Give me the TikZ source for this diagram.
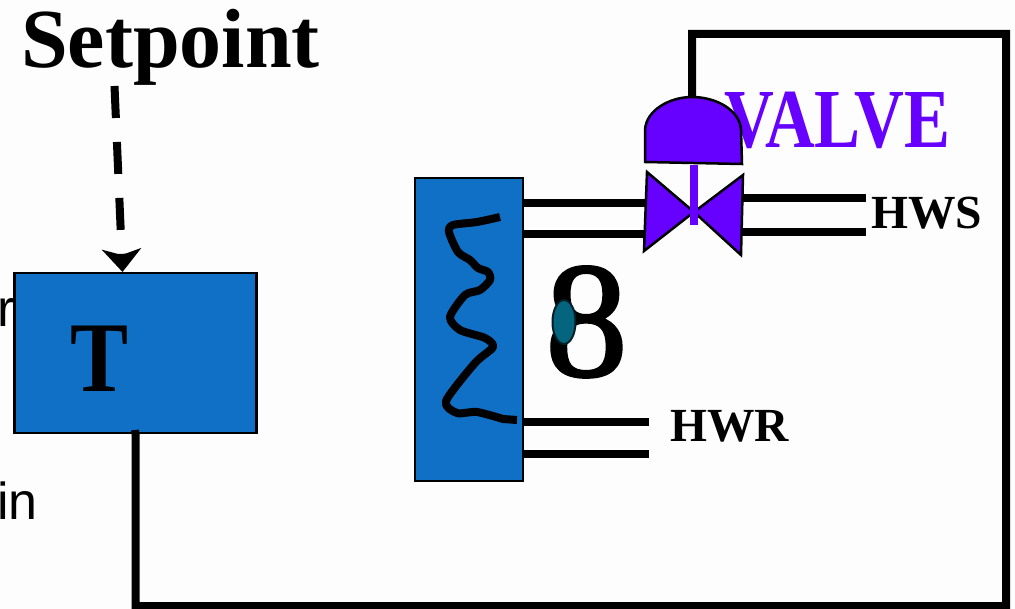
\documentclass[tikz,border=0pt]{standalone}
\usepackage{fontspec}
\setmainfont{Liberation Serif}
\setsansfont{Liberation Sans}
\newfontfamily\heavyfont[FakeBold=1.5]{Liberation Serif}
\usetikzlibrary{arrows.meta, positioning, shapes.geometric}
\definecolor{boxblue}{HTML}{1070C6}
\definecolor{valvepurple}{HTML}{6600FF}
\definecolor{dropteal}{HTML}{05657F}
\definecolor{paper}{HTML}{FDFDFD}
\newcommand{\labelfont}[1]{\fontsize{#1}{#1}\selectfont\bfseries}
\tikzset{
    block/.style={draw=black, line width=2.5pt, fill=boxblue, inner sep=0pt},
    pipe/.style={line width=8pt},
    signal/.style={line width=8pt, line join=miter},
    valvepart/.style={draw=black, line width=2.5pt, fill=valvepurple, line join=miter},
    tag/.style={inner sep=0pt, anchor=base west},
    cut/.style={inner sep=0pt, anchor=base west, font=\sffamily\fontsize{52}{52}\selectfont}
}

\begin{document}
\begin{tikzpicture}[x=1pt, y=-1pt]
    \useasboundingbox (0,0) rectangle (1015,609);
    \fill[paper] (0,0) rectangle (1015,609);

    \node[cut] (cutr) at (-3,327) {r};
    \node[cut] (cutin) at (-3,519) {in};
    \node[tag, font=\labelfont{84}] (setpoint) at (21,68) {Setpoint};
    \node[tag, font=\labelfont{84}, text=valvepurple, xscale=0.82] (valvetag) at (724,148) {VALVE};
    \node[tag, font=\labelfont{47.5}] (hws) at (871,229) {HWS};
    \node[tag, font=\labelfont{47.5}] (hwr) at (670,442) {HWR};

    \node[block, minimum width=242pt, minimum height=160pt] (tbox) at (135.5,353) {};
    \node[block, minimum width=108pt, minimum height=303pt] (hx) at (469,329.5) {};
    \node[tag, font=\labelfont{100}, xscale=0.87] (tlabel) at (70,392) {T};
    \node[tag, font=\heavyfont\fontsize{165}{165}\selectfont] (eight) at (545,376) {8};
    \node[ellipse, draw=black!70!dropteal, line width=2pt, fill=dropteal, minimum width=23pt, minimum height=44pt, inner sep=0pt] (drop) at (564,322) {};

    \coordinate (setfoot) at (114.5,86);
    \coordinate (tin) at (122.5,272);
    \coordinate (acttop) at (692,97);
    \coordinate (botright) at (1006,606);
    \coordinate (topright) at (1006,34);
    \coordinate (vlup) at (646,203);
    \coordinate (vldown) at (646,234);
    \coordinate (vrup) at (743,198);
    \coordinate (vrdown) at (742,232);
    \coordinate (hwsup) at (866,198);
    \coordinate (hwsdown) at (866,232);
    \coordinate (hwrup) at (649,422);
    \coordinate (hwrdown) at (649,454);

    \draw[signal] (135,430) -- (tbox.south) |- (botright) -- (topright) -| (acttop);
    \draw[line width=8pt, dash pattern=on 32pt off 24pt, -{Stealth[length=23pt, width=39pt, inset=6pt]}] (setfoot) -- (tin);

    \draw[pipe] (hx.east |- vlup) -- (vlup);
    \draw[pipe] (hx.east |- vldown) -- (vldown);
    \draw[pipe] (vrup) -- (hwsup);
    \draw[pipe] (vrdown) -- (hwsdown);
    \draw[pipe] (hx.east |- hwrup) -- (hwrup);
    \draw[pipe] (hx.east |- hwrdown) -- (hwrdown);

    \draw[line width=8pt, line join=round] plot[smooth, tension=0.45] coordinates {
        (500,217) (477,222) (453,225) (449,232) (458,252) (470,260) (478,268) (488,272)
        (490,280) (480,290) (465,295) (450,317) (460,330) (485,338) (493,347) (475,363)
        (446,401) (457,413) (477,412) (503,419)} -- (517,420);

    \draw[valvepart] (645,162) -- (645,130) .. controls (646,110) and (670,97) .. (692,97)
        .. controls (716,97) and (740,110) .. (741,130) -- (742,164) -- cycle;
    \draw[valvepart] (647,172) -- (694,212) -- (644,251) -- cycle;
    \draw[valvepart] (743,175) -- (694,212) -- (741,255) -- cycle;
    \fill[valvepurple] (690,165) rectangle (698,225);
\end{tikzpicture}
\end{document}
